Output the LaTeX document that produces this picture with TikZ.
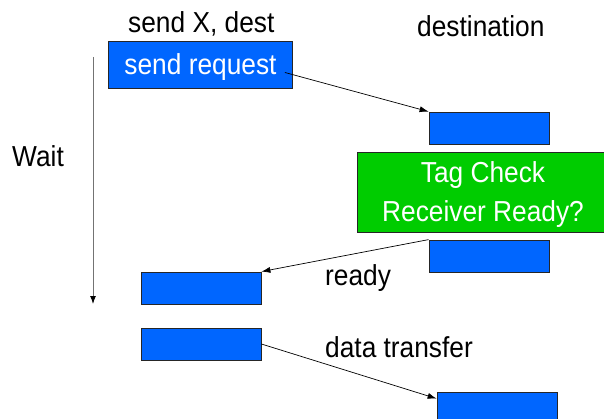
\documentclass[tikz,border=0pt]{standalone}
\usepackage{fontspec}
\setmainfont{Liberation Sans}[FakeStretch=0.91]
\usetikzlibrary{arrows.meta}
\definecolor{msgblue}{RGB}{0,102,255}
\definecolor{chkgreen}{RGB}{0,204,0}
\tikzset{
  txt/.style={font=\fontsize{28.9}{34}\selectfont},
  msgbox/.style={draw=black!85, line width=0.8pt, fill=msgblue, inner sep=0pt,
    text=white, txt, minimum width=120pt, minimum height=32pt},
  chkbox/.style={draw=black!85, line width=0.8pt, fill=chkgreen, inner sep=0pt},
  chktext/.style={anchor=base, inner sep=0pt, text=white, txt},
  lbl/.style={anchor=base west, inner sep=0pt, txt},
  msgarrow/.style={draw=black, line width=0.7pt, -{Latex[length=9pt,width=6pt]}},
  timearrow/.style={draw=black!55, line width=1pt, -{Latex[length=8pt,width=6pt,fill=black,color=black]}}
}
\begin{document}
\begin{tikzpicture}[x=1pt, y=-1pt]
  \useasboundingbox (0,0) rectangle (604,419);
  \clip (0,0) rectangle (604,419);

  % headings
  \node[lbl] (hsend) at (128,33) {send X, dest};
  \node[lbl] (hdest) at (417,37) {destination};
  \node[lbl] (hwait) at (12,167) {Wait};

  % sender side
  \node[msgbox, minimum width=184pt, minimum height=47pt, text depth=0pt] (req) at (200.5,64.5) {send request};
  \node[msgbox] (s2) at (201,288) {};
  \node[msgbox] (s3) at (201,344) {};

  % receiver side
  \node[msgbox] (d1) at (489,128) {};
  \node[chkbox, minimum width=248pt, minimum height=80pt] (chk) at (481,192) {};
  \node[chktext] (chk1) at (483,183) {Tag Check};
  \node[chktext] (chk2) at (483,222) {Receiver Ready?};
  \node[msgbox] (d2) at (489,256) {};
  \node[msgbox] (d3) at (497,408) {};

  % time axis
  \coordinate (t0) at (93,57);
  \coordinate (t1) at (93,304);
  \draw[timearrow] (t0) -- (t1);

  % messages
  \draw[msgarrow] ([shift={(-8,8)}]req.east) -- (d1.north west);
  \draw[msgarrow] (d2.north west) -- (s2.north east);
  \draw[msgarrow] (s3.east) -- ([shift={(0,7)}]d3.north west);

  % message labels
  \node[lbl] (lready) at (325,285) {ready};
  \node[lbl] (ldata) at (325,357) {data transfer};
\end{tikzpicture}
\end{document}
